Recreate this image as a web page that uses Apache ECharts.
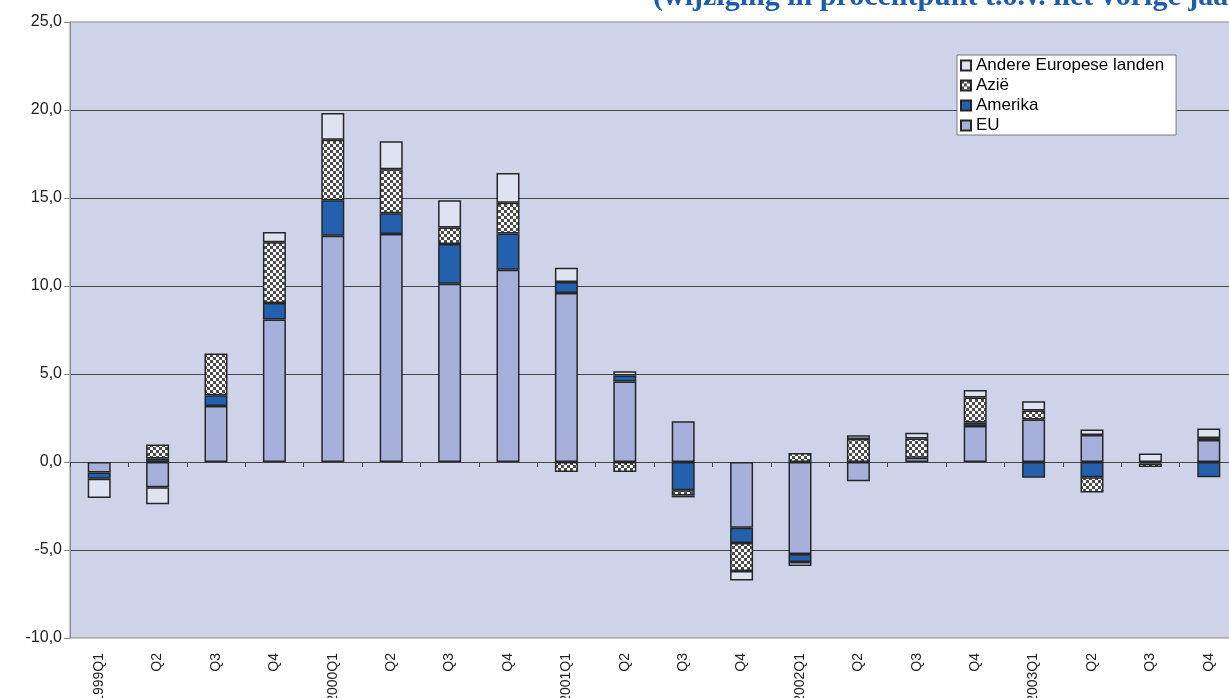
<!DOCTYPE html>
<html><head><meta charset="utf-8">
<script src="https://cdn.jsdelivr.net/npm/echarts@6/dist/echarts.min.js"></script>
<style>html,body{margin:0;padding:0;background:#fff}#c{width:1229px;height:698px}</style>
</head><body><div id="c"></div>
<script>
const categories = ['1999Q1','1999Q2','1999Q3','1999Q4','2000Q1','2000Q2','2000Q3','2000Q4','2001Q1','2001Q2','2001Q3','2001Q4','2002Q1','2002Q2','2002Q3','2002Q4','2003Q1','2003Q2','2003Q3','2003Q4'];
const tickLabels = ['1999Q1','Q2','Q3','Q4','2000Q1','Q2','Q3','Q4','2001Q1','Q2','Q3','Q4','2002Q1','Q2','Q3','Q4','2003Q1','Q2','Q3','Q4'];
const euValues      = [-0.6, -1.44, 3.18, 8.1, 12.86, 12.95, 10.13, 10.93, 9.6, 4.58, 2.31, -3.73, -5.23, -1.1, 0.24, 2.05, 2.42, 1.53, null, 1.25];
const amerikaValues = [-0.35, 0.2, 0.61, 0.93, 2.01, 1.18, 2.26, 2.06, 0.63, 0.34, -1.61, -0.87, -0.45, null, null, 0.19, -0.89, -0.87, -0.08, -0.87];
const azieValues    = [null, 0.8, 2.38, 3.45, 3.44, 2.5, 0.94, 1.74, -0.57, -0.57, -0.3, -1.59, 0.51, 1.3, 1.1, 1.42, 0.5, -0.87, -0.2, 0.11];
const andereValues  = [-1.1, -0.96, null, 0.59, 1.52, 1.59, 1.54, 1.69, 0.81, 0.23, -0.1, -0.55, -0.23, 0.22, 0.32, 0.43, 0.53, 0.31, 0.49, 0.55];
const yTicks = {min: -10, max: 25, interval: 5};
const titleText = '(wijziging in procentpunt t.o.v. het vorige jaar)';

const pat = document.createElement('canvas');
pat.width = 6; pat.height = 6;
const pc = pat.getContext('2d');
pc.fillStyle = '#ffffff'; pc.fillRect(0,0,6,6);
pc.fillStyle = '#4d4d4d'; pc.fillRect(0,0,3,3); pc.fillRect(3,3,3,3);

const chart = echarts.init(document.getElementById('c'), null, {renderer:'canvas'});
const border = {borderColor:'#262626', borderWidth:1.5};
function bar(name, data, color){
  return {name, type:'bar', stack:'total', xAxisIndex:0, data, barWidth:23,
    itemStyle:Object.assign({color}, border)};
}
chart.setOption({
  animation:false,
  title:{text:titleText, left:648, top:-23,
    textStyle:{fontFamily:'Liberation Serif', fontWeight:'bold', fontSize:30, color:'#1F5CAB'}},
  grid:{left:70, top:22, right:-9, bottom:60, outerBoundsMode:'none', containLabel:false,
    show:true, backgroundColor:'#CFD3E9', borderColor:'#8c8c8c', borderWidth:1},
  legend:{orient:'vertical', left:957, top:55, backgroundColor:'#fff', borderColor:'#777', borderWidth:1,
    padding:[2,12,1,3], itemWidth:10, itemHeight:10, itemGap:3, icon:'rect',
    textStyle:{fontFamily:'Liberation Sans', fontSize:17, color:'#000', lineHeight:16},
    data:['Andere Europese landen','Azië','Amerika','EU']},
  xAxis:[
    {type:'category', data:categories, position:'bottom', axisLine:{show:false, onZero:false}, axisTick:{show:false},
     axisLabel:{rotate:90, fontSize:14, margin:15, color:'#222', fontFamily:'Liberation Sans', interval:0,
       formatter:(v,i)=>tickLabels[i]}},
    {type:'category', data:categories, position:'bottom', axisLine:{show:true, onZero:true, lineStyle:{color:'#444', width:1}},
     axisTick:{show:true, length:5, lineStyle:{color:'#444'}}, axisLabel:{show:false}}
  ],
  yAxis:{type:'value', min:yTicks.min, max:yTicks.max, interval:yTicks.interval,
    axisLine:{show:true, lineStyle:{color:'#8c8c8c'}}, axisTick:{show:true, length:6, lineStyle:{color:'#8c8c8c'}},
    splitLine:{show:true, showMinLine:false, showMaxLine:false, lineStyle:{color:'#444', width:1}},
    axisLabel:{fontSize:16, color:'#222', fontFamily:'Liberation Sans', margin:8,
      formatter:v=>v.toFixed(1).replace('.',',')}},
  series:[
    bar('EU', euValues, '#A6B0DA'),
    bar('Amerika', amerikaValues, '#2361AF'),
    bar('Azië', azieValues, {image:pat, repeat:'repeat'}),
    bar('Andere Europese landen', andereValues, '#DFE3F1')
  ]
});
</script></body></html>
